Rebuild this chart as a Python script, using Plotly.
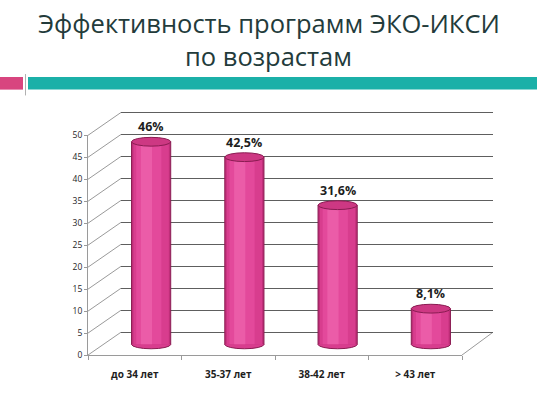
import plotly.graph_objects as go

# ---------------- data ----------------
categories = ["до 34 лет", "35-37 лет", "38-42 лет", "> 43 лет"]
values = [46, 42.5, 31.6, 8.1]
y_ticks = [0, 5, 10, 15, 20, 25, 30, 35, 40, 45, 50]
title_lines = ["Эффективность программ ЭКО-ИКСИ", "по возрастам"]

# ---------------- geometry (pixels) ----------------
W, H = 537, 397


def px(x):
    return x / W


def py(y):
    return 1 - y / H


def y_domain(pix0, pix_max, vmax, rng):
    """paper domain so that value 0 -> pix0 and vmax -> pix_max, with range rng."""
    ppu = (pix0 - pix_max) / vmax
    return [py(pix0 - rng[0] * ppu), py(pix0 - rng[1] * ppu)]


Y_MAX = 50
FRONT_X, FRONT_Y = (88, 462), (359, 133)      # front plane: x0,x1 ; y(0), y(50)
BACK_X, BACK_Y = (121, 493), (335.5, 109.5)   # back wall
MID_X, MID_Y = (104.5, 477.5), (348, 121.5)   # bar mid-depth plane
BACK_RANGE = (-0.5, 50.5)
MID_RANGE = (-5, 55)

PINK_EDGE = "#bf2f79"
PINK_1 = "#d83d8e"
PINK_2 = "#e3499b"
PINK_3 = "#eb5ca8"
CAP = "#cd3883"
OUTLINE = "#8a1c52"
GRID = "#5e5e5e"
AXIS = "#9a9a9a"
TXT = "#1e1e1e"
FONT = "Open Sans"

fig = go.Figure()

# invisible carrier traces so the front axes and back wall are drawn
fig.add_trace(go.Scatter(x=categories, y=values, xaxis="x", yaxis="y", mode="markers",
                         marker=dict(opacity=0), hoverinfo="skip", showlegend=False))
fig.add_trace(go.Scatter(x=[0, 1, 2, 3], y=values, xaxis="x2", yaxis="y2", mode="markers",
                         marker=dict(opacity=0), hoverinfo="skip", showlegend=False))

# cylinder bodies: overlaid bars for a shaded look
for w, off, col in [(0.42, None, PINK_EDGE), (0.38, None, PINK_1),
                    (0.27, -0.16, PINK_2), (0.12, -0.11, PINK_3)]:
    kw = dict(offset=off) if off is not None else {}
    fig.add_trace(go.Bar(x=categories, y=values, width=w, marker=dict(color=col, line=dict(width=0)),
                         xaxis="x3", yaxis="y3", hoverinfo="skip", showlegend=False, **kw))

shapes = []
BW = 0.42
EH = 1.0
for i, v in enumerate(values):
    shapes.append(dict(type="circle", xref="x3", yref="y3", x0=i - BW / 2, x1=i + BW / 2,
                       y0=-EH, y1=EH, fillcolor=PINK_1, line=dict(color=OUTLINE, width=1),
                       layer="below"))
    shapes.append(dict(type="circle", xref="x3", yref="y3", x0=i - BW / 2, x1=i + BW / 2,
                       y0=v - EH, y1=v + EH, fillcolor=CAP, line=dict(color=OUTLINE, width=1),
                       layer="above"))

for i, v in enumerate(values):
    for sx in (i - BW / 2, i + BW / 2):
        shapes.append(dict(type="line", xref="x3", yref="y3", x0=sx, x1=sx, y0=0, y1=v,
                           line=dict(color=OUTLINE, width=1), layer="above"))

# 3D frame: diagonals from front axis to back wall
for t in y_ticks:
    yf = FRONT_Y[0] - (FRONT_Y[0] - FRONT_Y[1]) * t / Y_MAX
    yb = BACK_Y[0] - (BACK_Y[0] - BACK_Y[1]) * t / Y_MAX
    shapes.append(dict(type="line", xref="paper", yref="paper", x0=px(FRONT_X[0]), y0=py(yf),
                       x1=px(BACK_X[0]), y1=py(yb), line=dict(color=AXIS, width=1), layer="below"))
shapes.append(dict(type="line", xref="paper", yref="paper", x0=px(FRONT_X[1]), y0=py(FRONT_Y[0]),
                   x1=px(BACK_X[1]), y1=py(BACK_Y[0]), line=dict(color=AXIS, width=1), layer="below"))

# decorative bands under title
shapes.append(dict(type="rect", xref="paper", yref="paper", x0=0, x1=px(23), y0=py(86), y1=py(73),
                   fillcolor="#d8457f", line=dict(width=0)))
shapes.append(dict(type="rect", xref="paper", yref="paper", x0=px(28), x1=1, y0=py(86), y1=py(73),
                   fillcolor="#1bb0a8", line=dict(width=0)))
shapes.append(dict(type="line", xref="paper", yref="paper", x0=px(25.5), x1=px(25.5), y0=py(92), y1=py(70),
                   line=dict(color="#b0b0b0", width=1)))

annotations = []
for i, v in enumerate(values):
    label = f"{v:g}".replace(".", ",") + "%"
    annotations.append(dict(x=i, y=v, xref="x3", yref="y3", text=label, showarrow=False,
                            yanchor="middle", yshift=15,
                            font=dict(family=FONT, size=12.5, color=TXT, weight="bold")))

for ty, line in zip((17, 51), title_lines):
    annotations.append(dict(x=0.5, y=py(ty), xref="paper", yref="paper", text=line,
                            xanchor="center", yanchor="middle", showarrow=False,
                            font=dict(family=FONT, size=25.5, color="#233b3b")))

fig.update_layout(
    width=W, height=H, autosize=False,
    margin=dict(l=0, r=0, t=0, b=0),
    paper_bgcolor="white", plot_bgcolor="rgba(0,0,0,0)",
    barmode="overlay", showlegend=False,
    shapes=shapes, annotations=annotations,
    xaxis=dict(domain=[px(FRONT_X[0]), px(FRONT_X[1])], anchor="y", type="category",
               categoryorder="array", categoryarray=categories, range=[-0.5, 3.5],
               showline=True, linecolor=AXIS, linewidth=1, showgrid=False, zeroline=False,
               ticks="outside", tickson="boundaries", ticklen=4, tickcolor=AXIS,
               ticklabelstandoff=10,
               tickfont=dict(family=FONT, size=10, color=TXT, weight="bold")),
    yaxis=dict(domain=[py(FRONT_Y[0]), py(FRONT_Y[1])], anchor="x", range=[0, Y_MAX],
               tickvals=y_ticks, showline=True, linecolor=AXIS, linewidth=1, showgrid=False,
               zeroline=False, ticks="outside", ticklen=3, tickcolor=AXIS,
               tickfont=dict(family=FONT, size=8.5, color=TXT)),
    xaxis2=dict(domain=[px(BACK_X[0]), px(BACK_X[1])], anchor="y2", range=[-0.5, 3.5],
                showgrid=False, showline=False, zeroline=False, showticklabels=False, ticks=""),
    yaxis2=dict(domain=y_domain(BACK_Y[0], BACK_Y[1], Y_MAX, BACK_RANGE), anchor="x2",
                range=list(BACK_RANGE), tickvals=y_ticks, showgrid=True, gridcolor=GRID,
                gridwidth=1.2, showline=False, zeroline=False, showticklabels=False, ticks=""),
    xaxis3=dict(domain=[px(MID_X[0]), px(MID_X[1])], anchor="y3", type="category",
                categoryorder="array", categoryarray=categories, range=[-0.5, 3.5],
                visible=False),
    yaxis3=dict(domain=y_domain(MID_Y[0], MID_Y[1], Y_MAX, MID_RANGE), anchor="x3",
                range=list(MID_RANGE), visible=False),
)

fig.write_html("out.html", config={"displayModeBar": False},
               post_script="document.body.style.margin='0';document.body.style.padding='0';")
